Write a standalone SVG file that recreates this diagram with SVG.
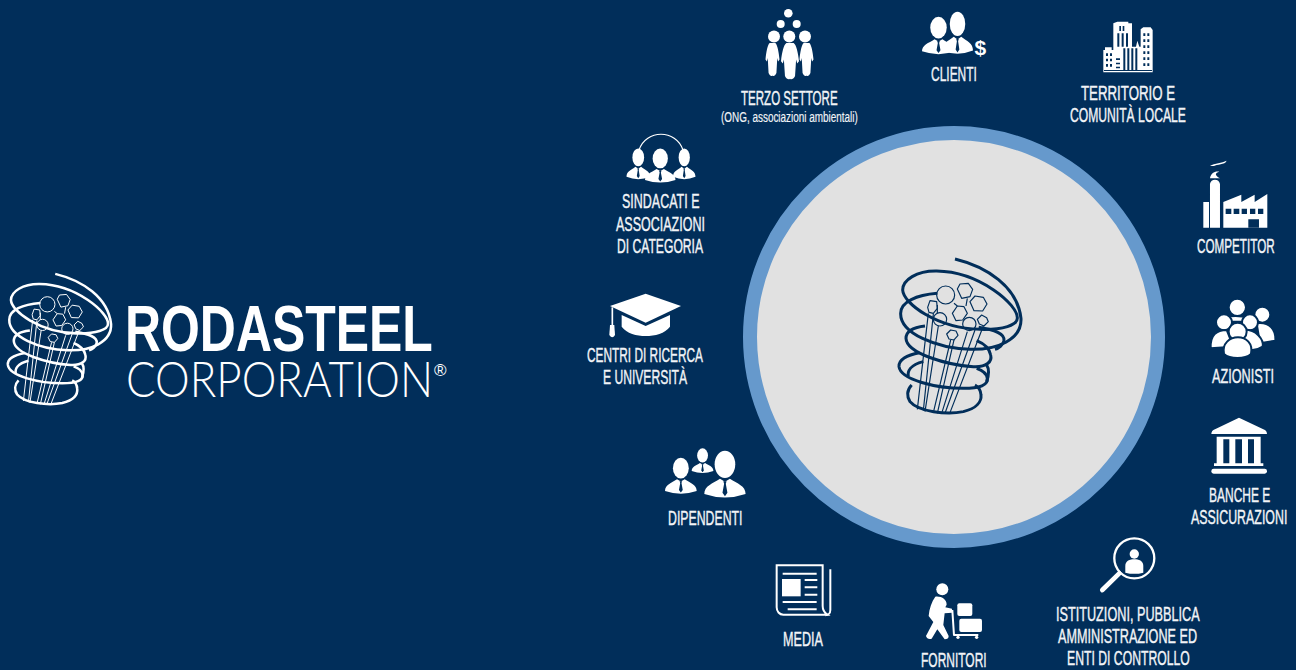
<svg xmlns="http://www.w3.org/2000/svg" width="1296" height="670" viewBox="0 0 1296 670">
<style>
.l{font-family:"Liberation Sans",Arial,sans-serif;font-size:21px;fill:#f2f4f7;stroke:#f2f4f7;stroke-width:.4}
.s{font-size:14px;stroke-width:.15}
.w{fill:#fff}
.n{fill:#012e5a}
</style>
<defs>
<g id="spiral" fill="none" stroke="currentColor">
<g stroke-width="3.500" stroke-linejoin="round">
<circle cx="197" cy="135" r="27"/>
<path d="M232,117L240,102L265,100L278,118L270,140L245,145Z"/>
<path d="M270,155L285,138L310,142L321,162L308,183L282,182Z"/>
<path d="M217,190L232,168L252,170L262,190L248,210L228,212Z"/>
<path d="M292,208L305,195L320,203L325,215L312,228L298,222Z"/>
<path d="M200,252L212,240L228,243L234,256L222,270L207,267Z"/>
<circle cx="268" cy="222" r="20"/>
<circle cx="180" cy="208" r="20"/>
<path d="M143,172L150,152L170,155L172,175L160,190L147,187Z"/>
<path d="M145,190L112,478M160,192L130,482M175,228L135,485M212,270L160,488M222,270L172,490M262,245L185,490M285,240L195,490M310,228L210,488"/>
<path d="M172,165V190M222,160L232,168M262,145L258,168"/>
</g>
<g stroke-width="9">
<path d="M225,27C320,50 412,110 423,205C426,270 350,300 270,298C170,295 60,250 62,190C62,155 110,135 172,130"/>
<path d="M412,205C415,165 300,65 170,63C110,62 68,90 68,120C70,160 170,235 300,238C370,240 412,225 412,205"/>
<path d="M135,228C100,232 78,245 78,265C80,310 200,345 280,350C320,352 337,335 332,315C328,295 310,280 290,272"/>
<path d="M296,232C345,240 375,250 372,272C370,285 355,295 345,298"/>
<path d="M118,308C80,315 55,330 57,350C62,390 170,415 250,415C300,415 325,405 322,385C320,370 305,360 290,355"/>
<path d="M130,335C90,345 82,365 85,380M320,345C330,360 325,380 320,395"/>
<path d="M95,405C80,420 80,440 90,455C115,485 200,495 250,485C290,475 305,455 303,435C302,420 295,410 285,405"/>
</g>
</g>
<g id="bust">
<ellipse cx="50" cy="33" rx="25" ry="33"/>
<path d="M0,105C0,85 20,80 38,68L50,75L62,68C80,80 100,85 100,105Q50,122 0,105Z"/>
<path class="n" d="M46,74H54L52,80L56,102L50,110L44,102L48,80Z"/>
</g>
<g id="body">
<path d="M30,0H70C85,5 95,30 100,55L90,62L84,50L78,100C70,110 55,112 50,108C45,112 30,110 22,100L16,50L10,62L0,55C5,30 15,5 30,0Z"/>
</g>
</defs>
<rect width="1296" height="670" fill="#012e5a"/>

<g id="logo">
<g color="#fff" transform="translate(7.300,273.300) scale(.282) translate(-55,-25)"><use href="#spiral"/></g>
<text transform="translate(125,351) scale(.78,1)" font-family="Liberation Sans" font-weight="700" font-size="64" fill="#fff">RODASTEEL</text>
<text transform="translate(126,397) scale(.894,1)" font-family="Lato" font-weight="300" font-size="49" fill="#fff">CORPORATION</text>
<text x="434" y="376" font-family="Liberation Sans" font-size="17" fill="#fff">®</text>
</g>

<g id="core">
<circle cx="954" cy="337" r="204" fill="#e1e1e1" stroke="#6699cc" stroke-width="14"/>
<g color="#012e5a" transform="translate(880,250) scale(.3333)"><use href="#spiral"/></g>
</g>

<g id="terzo-settore">
<g class="w"><circle cx="788.300" cy="13.300" r="4.300"/><circle cx="780.700" cy="24" r="4"/><circle cx="796.700" cy="24" r="4"/><circle cx="774" cy="36.500" r="6"/><circle cx="789.300" cy="36.500" r="6"/><circle cx="805" cy="36.500" r="6"/>
<use href="#body" transform="translate(765.500,43) scale(.14,.3)"/><use href="#body" transform="translate(781,43) scale(.18,.33)"/><use href="#body" transform="translate(799.500,43) scale(.14,.3)"/></g>
<text class="l" transform="translate(741,105) scale(.55,1)">TERZO SETTORE</text>
<text class="l s" transform="translate(721,122) scale(.71,1)">(ONG, associazioni ambientali)</text>
</g>

<g id="clienti">
<g class="w"><use href="#bust" transform="translate(922,16.700) scale(.33)"/><use href="#bust" transform="translate(942,11.700) scale(.31,.37)"/></g>
<text x="974.500" y="55" font-family="Liberation Sans" font-weight="700" font-size="21" fill="#fff">$</text>
<text class="l" transform="translate(931,81) scale(.571,1)">CLIENTI</text>
</g>

<g id="territorio">
<g transform="translate(1060,0) scale(.3333)">
<path class="w" d="M130,217V150H135V142H155V150H160V70L172,65H205V70H216V140H228L232,122L238,140H242V88L250,82H272L278,90V217Z"/>
<g class="n"><path d="M178,78h5v15h-5zM188,78h5v15h-5zM172,100h6v40h-6zM185,100h6v40h-6zM198,100h6v40h-6zM190,145h6v65h-6zM202,145h6v65h-6zM214,145h6v65h-6zM226,145h6v65h-6zM138,160h6v8h-6zM150,160h6v8h-6zM138,176h6v8h-6zM150,176h6v8h-6zM138,192h6v8h-6zM150,192h6v8h-6zM168,175h12v5h-12zM168,188h12v5h-12zM168,200h12v5h-12z"/>
<path d="M250,100h6v8h-6zM262,100h6v8h-6zM250,118h6v8h-6zM262,118h6v8h-6zM250,136h6v8h-6zM262,136h6v8h-6zM250,154h6v8h-6zM262,154h6v8h-6zM250,172h6v8h-6zM262,172h6v8h-6zM250,190h6v8h-6zM262,190h6v8h-6z"/>
<path d="M132,210h144v3h-144z"/></g></g>
<text class="l" transform="translate(1081,99.500) scale(.632,1)">TERRITORIO E</text>
<text class="l" transform="translate(1070,121.500) scale(.578,1)">COMUNITÀ LOCALE</text>
</g>

<g id="competitor">
<g transform="translate(1060,0) scale(.3333)">
<path class="w" d="M450,498C465,488 485,490 500,482C495,495 470,492 462,498ZM450,535C452,520 465,512 478,515C466,518 462,525 480,535Z"/>
<path class="w" d="M430,606H447V683H430ZM450,552C452,535 478,535 480,552V683H450ZM490,606L544,584V606L584,584V606L622,582V683H490Z"/>
<path class="n" d="M497,626h17v16h-17zM521,626h17v16h-17zM545,626h16v16h-16zM570,626h16v16h-16zM594,626h16v16h-16zM565,658h32v25h-32z"/>
</g>
<text class="l" transform="translate(1197,253) scale(.557,1)">COMPETITOR</text>
</g>

<g id="azionisti">
<g transform="translate(1170,280) scale(.3333)" stroke="#012e5a" stroke-width="6" fill="#fff">
<circle cx="277" cy="104" r="24"/><path d="M260,130C300,125 318,150 316,182L270,190Z"/>
<circle cx="202" cy="82" r="26"/><path d="M170,112C200,102 240,112 240,125L170,125Z"/>
<circle cx="162" cy="127" r="24"/><path d="M122,205C120,165 140,150 170,150L190,200Z"/>
<circle cx="240" cy="127" r="24"/><path d="M215,150C260,145 282,180 278,200C260,212 240,212 225,205Z"/>
<circle cx="203" cy="155" r="27"/><path d="M162,222C155,190 180,172 204,172C228,172 250,190 243,222C225,238 180,238 162,222Z"/>
</g>
<text class="l" transform="translate(1212,383) scale(.604,1)">AZIONISTI</text>
</g>

<g id="banche">
<g transform="translate(1170,280) scale(.3333)" class="w">
<path d="M124,462Q124,452 135,448L207,413L280,448Q291,452 291,462Z"/>
<path d="M140,470H272V550H280V558H132V550H140Z"/>
<path class="n" d="M160,478h18v72h-18zM196,478h20v72h-20zM234,478h18v72h-18z"/>
<rect x="124" y="566" width="167" height="15" rx="7"/>
</g>
<text class="l" transform="translate(1209,501.500) scale(.572,1)">BANCHE E</text>
<text class="l" transform="translate(1191,524) scale(.59,1)">ASSICURAZIONI</text>
</g>

<g id="istituzioni">
<g transform="translate(750,530) scale(.3333)">
<circle cx="1153" cy="85" r="60" fill="none" stroke="#fff" stroke-width="7"/>
<path d="M1108,130L1057,180" stroke="#fff" stroke-width="14" stroke-linecap="round"/>
<circle class="w" cx="1153" cy="72" r="14"/>
<path class="w" d="M1126,128V108C1126,92 1140,88 1153,88C1166,88 1180,92 1180,108V128Q1153,135 1126,128Z"/>
</g>
<text class="l" transform="translate(1056,620.500) scale(.604,1)">ISTITUZIONI, PUBBLICA</text>
<text class="l" transform="translate(1058,642.500) scale(.602,1)">AMMINISTRAZIONE ED</text>
<text class="l" transform="translate(1067,665) scale(.582,1)">ENTI DI CONTROLLO</text>
</g>

<g id="media">
<g transform="translate(750,530) scale(.3333)">
<path d="M80,106H218V228C218,240 226,250 232,254H100C88,254 80,244 80,232Z" fill="none" stroke="#fff" stroke-width="6"/>
<path d="M241,118V240C241,250 234,256 226,256" fill="none" stroke="#fff" stroke-width="6"/>
<rect class="w" x="96" y="147" width="56" height="52"/>
<g stroke="#fff" stroke-width="6"><path d="M98,131H200M164,150H202M164,172H202M164,194H202M98,216H200M113,238H200"/></g>
</g>
<text class="l" transform="translate(783,645.500) scale(.6,1)">MEDIA</text>
</g>

<g id="fornitori">
<g transform="translate(750,530) scale(.3333)">
<circle class="w" cx="577" cy="178" r="18"/>
<path class="w" d="M556,200C575,198 590,208 590,224L586,232L606,236V248L584,250L580,285L596,318Q596,328 584,328L562,298L545,326Q532,330 528,318L550,276L536,258C538,235 545,215 556,200Z"/>
<rect class="w" x="622" y="220" width="45" height="38" rx="6"/>
<rect class="w" x="628" y="266" width="68" height="40" rx="6"/>
<path d="M607,240L612,315H685" fill="none" stroke="#fff" stroke-width="6" stroke-linejoin="round"/>
<circle class="w" cx="624" cy="322" r="5"/><circle class="w" cx="680" cy="322" r="5"/>
</g>
<text class="l" transform="translate(921,667) scale(.571,1)">FORNITORI</text>
</g>

<g id="dipendenti">
<g class="w"><use href="#bust" transform="translate(665,457.700) scale(.317)"/><use href="#bust" transform="translate(691.700,448.300) scale(.217)"/><use href="#bust" transform="translate(704.300,450.700) scale(.413)"/></g>
<text class="l" transform="translate(668,525) scale(.586,1)">DIPENDENTI</text>
</g>

<g id="centri">
<g transform="translate(580,280) scale(.3333)">
<path class="w" d="M90,78L197,41L303,78L197,128Z"/>
<path class="w" d="M125,105L197,138L270,105V140C255,160 225,168 197,168C170,168 140,160 125,140Z"/>
<path d="M97,82V135" stroke="#fff" stroke-width="5"/>
<path class="w" d="M90,135H103L105,165Q97,178 88,165Z"/>
</g>
<text class="l" transform="translate(587,361.500) scale(.565,1)">CENTRI DI RICERCA</text>
<text class="l" transform="translate(603,384) scale(.577,1)">E UNIVERSITÀ</text>
</g>

<g id="sindacati">
<path d="M639,150C646,129 676,129 683,150" fill="none" stroke="#fff" stroke-width="1.200"/>
<g class="w"><use href="#bust" transform="translate(626.500,148.500) scale(.235,.27)"/><use href="#bust" transform="translate(645,148.500) scale(.305,.3)"/><use href="#bust" transform="translate(673,148.500) scale(.225,.27)"/></g>
<text class="l" transform="translate(622,208) scale(.595,1)">SINDACATI E</text>
<text class="l" transform="translate(616,231) scale(.596,1)">ASSOCIAZIONI</text>
<text class="l" transform="translate(617,253) scale(.578,1)">DI CATEGORIA</text>
</g>
</svg>
